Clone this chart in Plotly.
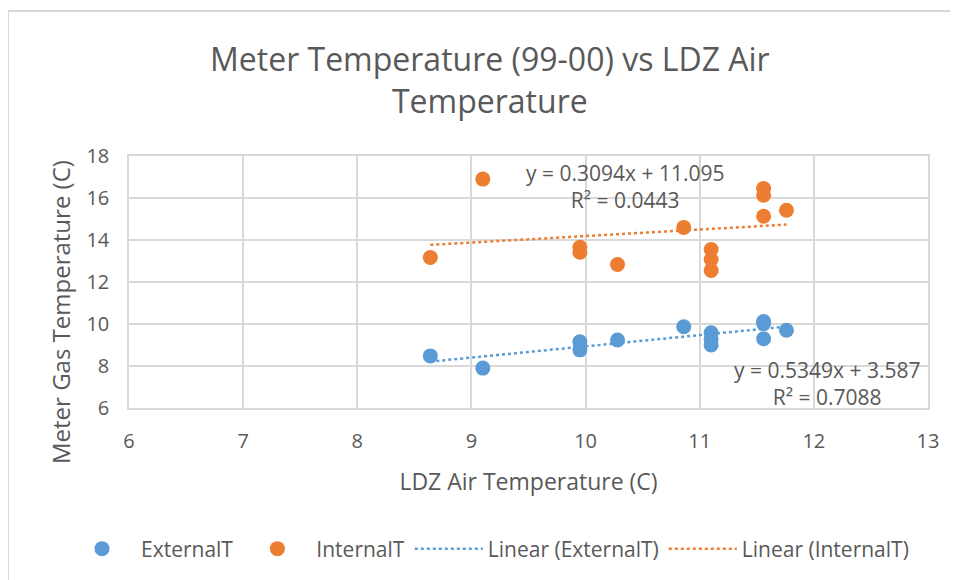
import plotly.graph_objects as go

# ---- data ----
ext_x = [8.64, 9.10, 9.95, 9.95, 10.28, 10.86, 11.10, 11.10, 11.10, 11.56, 11.56, 11.56, 11.76]
ext_y = [8.48, 7.90, 9.15, 8.77, 9.24, 9.87, 9.58, 9.28, 9.00, 10.12, 10.02, 9.30, 9.70]

int_x = [8.64, 9.10, 9.95, 9.95, 10.28, 10.86, 11.10, 11.10, 11.10, 11.56, 11.56, 11.56, 11.76]
int_y = [13.17, 16.90, 13.65, 13.42, 12.83, 14.60, 13.55, 13.07, 12.55, 16.45, 16.13, 15.13, 15.42]

ext_fit = [0.5349, 3.587]   # slope, intercept
int_fit = [0.3094, 11.095]
ext_r2 = 0.7088
int_r2 = 0.0443

x_ticks = [6, 7, 8, 9, 10, 11, 12, 13]
y_ticks = [6, 8, 10, 12, 14, 16, 18]

BLUE = "#5B9BD5"
ORANGE = "#ED7D31"
TXT = "#595959"
GRID = "#D9D9D9"
FONT = "Open Sans"


def trend(xs, fit):
    x0, x1 = min(xs), max(xs)
    return [x0, x1], [fit[0] * x0 + fit[1], fit[0] * x1 + fit[1]]


fig = go.Figure()
fig.add_trace(go.Scatter(x=ext_x, y=ext_y, mode="markers", name="ExternalT",
                         marker=dict(color=BLUE, size=15)))
fig.add_trace(go.Scatter(x=int_x, y=int_y, mode="markers", name="InternalT",
                         marker=dict(color=ORANGE, size=15)))
tx, ty = trend(ext_x, ext_fit)
fig.add_trace(go.Scatter(x=tx, y=ty, mode="lines", name="Linear (ExternalT)",
                         line=dict(color=BLUE, width=2.5, dash="dot")))
tx, ty = trend(int_x, int_fit)
fig.add_trace(go.Scatter(x=tx, y=ty, mode="lines", name="Linear (InternalT)",
                         line=dict(color=ORANGE, width=2.5, dash="dot")))

# page is offset by 8px body margin; work in page pixels and convert
OFF = 8
W, H = 958 - OFF, 580 - OFF
L, R, T, B = 129 - OFF, 30, 156 - OFF, 172
pw, ph = W - L - R, H - T - B


def px(xpage):
    return (xpage - OFF - L) / pw


def py(ypage):
    return (H - B - (ypage - OFF)) / ph


annotations = [
    dict(text="Meter Temperature (99-00) vs LDZ Air<br>Temperature", x=px(490), y=py(80),
         xref="paper", yref="paper", showarrow=False, xanchor="center", yanchor="middle",
         font=dict(family=FONT, size=32, color=TXT), align="center"),
    dict(text="Meter Gas Temperature (C)", x=px(60), y=py(312), textangle=-90,
         xref="paper", yref="paper", showarrow=False, xanchor="center", yanchor="middle",
         font=dict(family=FONT, size=24, color=TXT)),
    dict(text=f"y = {int_fit[0]}x + {int_fit[1]}<br>R² = {int_r2}", x=px(625), y=py(186),
         xref="paper", yref="paper", showarrow=False, xanchor="center", yanchor="middle",
         font=dict(family=FONT, size=21, color=TXT), align="center"),
    dict(text=f"y = {ext_fit[0]}x + {ext_fit[1]}<br>R² = {ext_r2}", x=px(827), y=py(383),
         xref="paper", yref="paper", showarrow=False, xanchor="center", yanchor="middle",
         font=dict(family=FONT, size=21, color=TXT), align="center"),
]

shapes = [
    dict(type="line", xref="paper", yref="paper", x0=px(8), x1=px(970), y0=py(11), y1=py(11),
         line=dict(color=GRID, width=2)),
    dict(type="line", xref="paper", yref="paper", x0=px(8), x1=px(8), y0=py(11), y1=py(590),
         line=dict(color=GRID, width=2)),
]

fig.update_layout(
    width=W, height=H,
    margin=dict(l=L, r=R, t=T, b=B, autoexpand=False),
    paper_bgcolor="white", plot_bgcolor="white",
    font=dict(family=FONT, color=TXT),
    showlegend=True,
    legend=dict(orientation="h", x=px(63), xanchor="left", y=py(549), yanchor="middle",
                font=dict(family=FONT, size=21, color=TXT), itemwidth=68,
                bgcolor="rgba(0,0,0,0)"),
    annotations=annotations,
    shapes=shapes,
    xaxis=dict(range=[6, 13], tickvals=x_ticks, showgrid=True, gridcolor=GRID, gridwidth=1.5,
               showline=True, linecolor=GRID, linewidth=1.5, mirror=True, zeroline=False,
               ticks="", tickfont=dict(family=FONT, size=20, color=TXT), ticklabelstandoff=14,
               title=dict(text="LDZ Air Temperature (C)", font=dict(family=FONT, size=23, color=TXT),
                          standoff=21)),
    yaxis=dict(range=[6, 18], tickvals=y_ticks, showgrid=True, gridcolor=GRID, gridwidth=1.5,
               showline=True, linecolor=GRID, linewidth=1.5, mirror=True, zeroline=False,
               ticks="", tickfont=dict(family=FONT, size=20, color=TXT), ticklabelstandoff=14),
)

fig.write_html("out.html")
